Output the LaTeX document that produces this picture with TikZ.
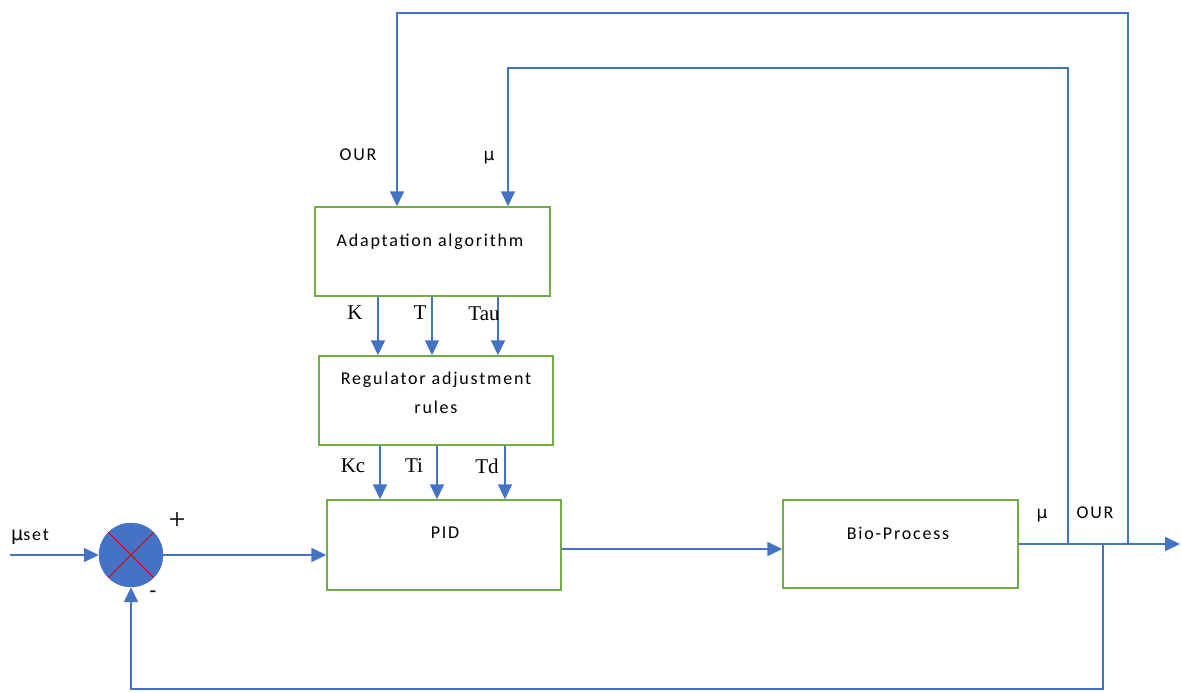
\documentclass[tikz,border=0pt]{standalone}
\usepackage{fontspec}
\setmainfont{Liberation Serif}
\newfontfamily\boxfont[LetterSpace=10]{Carlito}
\newfontfamily\mufont{DejaVu Sans}
\usetikzlibrary{arrows.meta}
\definecolor{lineblue}{HTML}{4472C4}
\definecolor{boxgreen}{HTML}{70AD47}
\tikzset{
  blk/.style={draw=boxgreen, line width=1.5pt, fill=white, inner sep=0pt},
  arr/.style={draw=lineblue, line width=1.8pt, -{Triangle[length=15pt,width=14pt]}},
  ln/.style={draw=lineblue, line width=1.8pt},
  btxt/.style={font=\boxfont\fontsize{18}{22}\selectfont, inner sep=0pt},
  mtxt/.style={font=\mufont\fontsize{17}{20}\selectfont, inner sep=0pt},
  stxt/.style={font=\fontsize{21}{24}\selectfont, inner sep=0pt},
}
\begin{document}
\begin{tikzpicture}[x=1pt,y=-1pt]
\useasboundingbox (0,0) rectangle (1181,693);
% blocks
\node[blk, minimum width=235pt, minimum height=89pt] (adapt) at (432.5,251.5) {};
\node[blk, minimum width=234pt, minimum height=89pt] (reg) at (436,400.5) {};
\node[blk, minimum width=234pt, minimum height=90pt] (pid) at (444,545) {};
\node[blk, minimum width=235pt, minimum height=88pt] (bio) at (900.5,544) {};
\node[circle, fill=lineblue, draw=lineblue, minimum size=64pt, inner sep=0pt] (sum) at (131,555) {};
\draw[red!85!black, line width=1pt] (sum.north west) -- (sum.south east);
\draw[red!85!black, line width=1pt] (sum.north east) -- (sum.south west);
% block texts
\node[btxt] (tadapt) at (430,242) {Adaptation algorithm};
\node[btxt] (treg1) at (436,380) {Regulator adjustment};
\node[btxt] (treg2) at (436,407) {rules};
\node[btxt] (tpid) at (445,533) {PID};
\node[btxt] (tbio) at (898,533) {Bio-Process};
% coordinates
\coordinate (in) at (10,555);
\coordinate (out) at (1180,544);
\coordinate (mutap) at (1068,544);
\coordinate (mutop) at (508,68);
\coordinate (ourtap) at (1128,544);
\coordinate (ourtop) at (397,13);
\coordinate (fbtap) at (1103,544);
\coordinate (fbbot) at (131,689);
\coordinate (xk) at (378,0);
\coordinate (xt) at (432,0);
\coordinate (xtau) at (498,0);
\coordinate (xkc) at (380,0);
\coordinate (xti) at (437,0);
\coordinate (xtd) at (505,0);
\coordinate (ypid) at (0,549);
% connectors
\draw[arr] (in) -- (sum.west);
\draw[arr] (sum.east) -- (sum.east -| pid.west);
\draw[arr] (pid.east |- ypid) -- (bio.west |- ypid);
\draw[arr] (bio.east |- out) -- (out);
\draw[arr] (mutap) |- (mutop) -- (adapt.north -| mutop);
\draw[arr] (ourtap) |- (ourtop) -- (adapt.north -| ourtop);
\draw[arr] (fbtap) |- (fbbot) -- (sum.south);
\draw[arr] (adapt.south -| xk) -- (reg.north -| xk);
\draw[arr] (adapt.south -| xt) -- (reg.north -| xt);
\draw[arr] (adapt.south -| xtau) -- (reg.north -| xtau);
\draw[arr] (reg.south -| xkc) -- (pid.north -| xkc);
\draw[arr] (reg.south -| xti) -- (pid.north -| xti);
\draw[arr] (reg.south -| xtd) -- (pid.north -| xtd);
% labels
\node[btxt] (lour) at (358,155) {OUR};
\node[mtxt] (lmu) at (489,158) {μ};
\node[mtxt] (lmu2) at (1042,516) {μ};
\node[btxt] (lour2) at (1095,513) {OUR};
\node[btxt, anchor=west] (lmuset) at (11,537) {{\mufont\fontsize{19}{20}\selectfont μ}set};
\node[font=\fontsize{30}{32}\selectfont, inner sep=0pt] (lplus) at (177,521) {+};
\node[font=\fontsize{20}{22}\selectfont\bfseries, inner sep=0pt] (lminus) at (153,594) {-};
\node[stxt] (lk) at (355,313) {K};
\node[stxt] (lt) at (420,313) {T};
\node[stxt] (ltau) at (484,314) {Tau};
\node[stxt] (lkc) at (353,466) {Kc};
\node[stxt] (lti) at (414,466) {Ti};
\node[stxt] (ltd) at (487,466) {Td};
\end{tikzpicture}
\end{document}
